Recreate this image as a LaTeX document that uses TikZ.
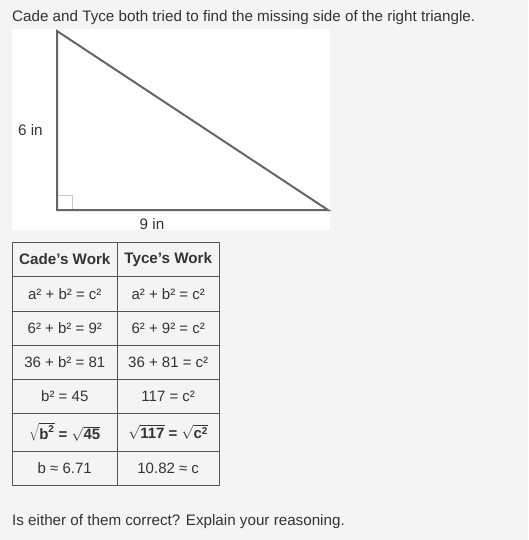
\documentclass[tikz,border=0pt]{standalone}
\usepackage{fontspec}
\setmainfont{Liberation Sans}
\definecolor{bg}{HTML}{F4F4F4}
\definecolor{txt}{HTML}{333333}
\definecolor{tri}{HTML}{666666}
\definecolor{sq}{HTML}{C8C8C8}
\definecolor{grid}{HTML}{555555}
\begin{document}
\begin{tikzpicture}[x=1pt,y=-1pt,
  lbl/.style={inner sep=0pt,text=txt,font=\fontsize{15.2}{18}\selectfont},
  cell/.style={inner sep=0pt,text=txt,font=\fontsize{15}{18}\selectfont,anchor=center},
  hcell/.style={cell,font=\fontsize{15.2}{18}\selectfont\bfseries}]
\fill[bg] (0,0) rectangle (528,540);
\useasboundingbox (0,0) rectangle (528,540);
% title
\node[lbl,anchor=base west] (title) at (12,22) {Cade and Tyce both tried to find the missing side of the right triangle.};
% white panel
\fill[white] (12,29) rectangle (330,230);
% triangle
\coordinate (A) at (57,31);
\coordinate (C) at (57,210);
\coordinate (B) at (328,210);
\draw[sq,line width=1pt] (57,195) -- (72,195) -- (72,210);
\draw[tri,line width=2pt,line join=miter] (A) -- (C) -- (B) -- cycle;
\node[lbl,anchor=base west] (six) at (18,135.5) {6 in};
\node[lbl,anchor=base] (nine) at (152,229.5) {9 in};
% table grid
\draw[grid,line width=0.8pt] (12.3,242.7) rectangle (219,485);
\foreach \y in {276,311,345.3,379.3,413.3,451} \draw[grid,line width=0.8pt] (12.3,\y) -- (219,\y);
\draw[grid,line width=0.8pt] (117.3,242.7) -- (117.3,485);
% header
\node[hcell] (h1) at (64.8,259.5) {Cade's Work};
\node[hcell] (h2) at (168.2,259.5) {Tyce's Work};
% rows
\node[cell] (c1) at (64.8,294) {a² + b² = c²};
\node[cell] (t1) at (168.2,294) {a² + b² = c²};
\node[cell] (c2) at (64.8,328.5) {6² + b² = 9²};
\node[cell] (t2) at (168.2,328.5) {6² + 9² = c²};
\node[cell] (c3) at (64.8,362.5) {36 + b² = 81};
\node[cell] (t3) at (168.2,362.5) {36 + 81 = c²};
\node[cell] (c4) at (64.8,396.5) {b² = 45};
\node[cell] (t4) at (168.2,396.5) {117 = c²};
\node[cell] (c5) at (64.8,432) {\bfseries $\sqrt{\mbox{\bfseries b}^{\mbox{\fontsize{10}{10}\selectfont\bfseries 2}}}$ = $\sqrt{\mbox{\bfseries 45}}$};
\node[cell] (t5) at (168.2,432) {\bfseries $\sqrt{\mbox{\bfseries 117}}$ = $\sqrt{\mbox{\bfseries c}^{\mbox{\fontsize{10}{10}\selectfont\bfseries 2}}}$};
\node[cell] (c6) at (64.8,468) {b ≈ 6.71};
\node[cell] (t6) at (168.2,468) {10.82 ≈ c};
% question
\node[lbl,anchor=base west] (q) at (12,525) {Is either of them correct? Explain your reasoning.};
\end{tikzpicture}
\end{document}
